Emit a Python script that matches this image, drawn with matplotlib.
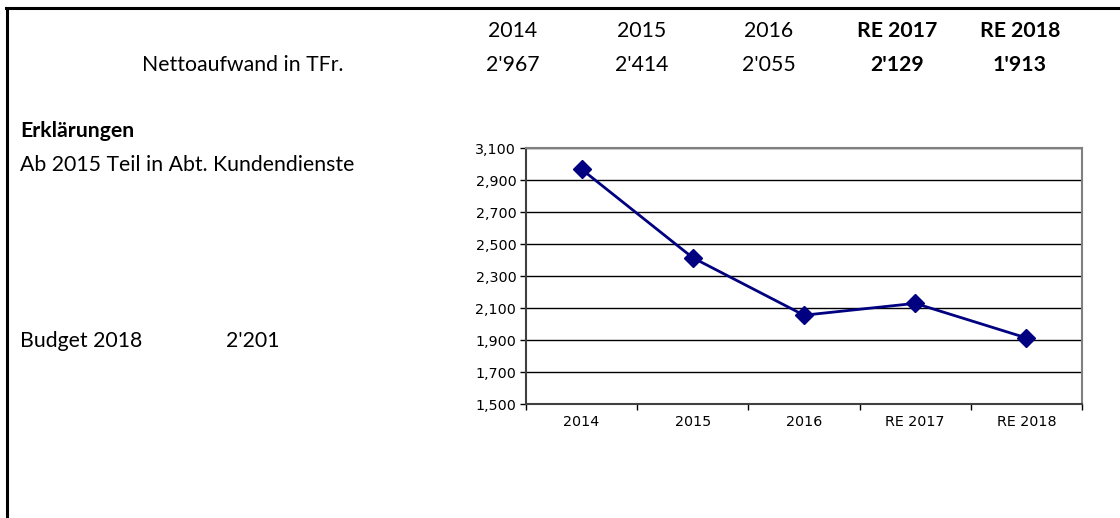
import matplotlib
matplotlib.use("Agg")
import matplotlib.pyplot as plt
from matplotlib.ticker import FuncFormatter, FixedLocator
from matplotlib.lines import Line2D

categories = ["2014", "2015", "2016", "RE 2017", "RE 2018"]
values = [2967, 2414, 2055, 2129, 1913]
value_labels = ["2'967", "2'414", "2'055", "2'129", "1'913"]
bold_flags = [False, False, False, True, True]
row_label = "Nettoaufwand in TFr."
notes_title = "Erklärungen"
note_text = "Ab 2015 Teil in Abt. Kundendienste"
budget_label = "Budget 2018"
budget_value = "2'201"
y_ticks = [1500, 1700, 1900, 2100, 2300, 2500, 2700, 2900, 3100]

W, H = 1120, 518
fig = plt.figure(figsize=(W / 100, H / 100), dpi=100)
FONT = "Lato"
fs = 15.3

def fx(px):
    return px / W

def fy(py):
    return 1 - py / H

# outer frame (top and left)
fig.add_artist(Line2D([fx(6), fx(1120)], [fy(8), fy(8)], color="black", lw=2.2, transform=fig.transFigure))
fig.add_artist(Line2D([fx(7), fx(7)], [fy(8), fy(518)], color="black", lw=2.2, transform=fig.transFigure))

# header table
col_x = [513, 642, 769, 897, 1020]
for cx, cat, val, b in zip(col_x, categories, value_labels, bold_flags):
    w = "bold" if b else "normal"
    fig.text(fx(cx), fy(31), cat, ha="center", va="center", fontsize=fs, family=FONT, fontweight=w)
    fig.text(fx(cx), fy(65), val, ha="center", va="center", fontsize=fs, family=FONT, fontweight=w)
fig.text(fx(343), fy(65), row_label, ha="right", va="center", fontsize=fs, family=FONT)

fig.text(fx(20), fy(131), notes_title, ha="left", va="center", fontsize=fs, family=FONT, fontweight="bold")
fig.text(fx(20), fy(165), note_text, ha="left", va="center", fontsize=fs, family=FONT)
fig.text(fx(20), fy(341), budget_label, ha="left", va="center", fontsize=fs, family=FONT)
fig.text(fx(226), fy(341), budget_value, ha="left", va="center", fontsize=fs, family=FONT)

# chart
left, right, top, bottom = 526, 1082, 148, 404
ax = fig.add_axes([fx(left), fy(bottom), fx(right - left), (bottom - top) / H])
x = list(range(len(categories)))
ax.plot(x, values, color="#000080", lw=2, marker="D", markersize=9.5, markerfacecolor="#000080",
        markeredgecolor="#000080", zorder=3)
ax.set_xlim(-0.5, len(categories) - 0.5)
ax.set_ylim(y_ticks[0], y_ticks[-1])
ax.yaxis.set_major_locator(FixedLocator(y_ticks))
ax.yaxis.set_major_formatter(FuncFormatter(lambda v, p: f"{int(v):,}"))
ax.set_xticks(x)
ax.set_xticklabels(categories)
ax.xaxis.set_minor_locator(FixedLocator([i - 0.5 for i in range(len(categories) + 1)]))
ax.tick_params(axis="x", which="major", length=0, pad=8, labelsize=10.3)
ax.tick_params(axis="x", which="minor", length=4, width=1, color="black", direction="out")
ax.tick_params(axis="y", which="major", length=4, width=1, color="black", direction="out", pad=3, labelsize=10.3)
for lab in ax.get_xticklabels() + ax.get_yticklabels():
    lab.set_family("DejaVu Sans")
ax.grid(axis="y", color="black", lw=1)
ax.set_axisbelow(True)
ax.spines["left"].set_color("#404040")
ax.spines["bottom"].set_color("#404040")
ax.spines["left"].set_linewidth(1.5)
ax.spines["bottom"].set_linewidth(1.5)
ax.spines["top"].set_color("#808080")
ax.spines["right"].set_color("#808080")
ax.spines["top"].set_linewidth(1.5)
ax.spines["right"].set_linewidth(1.5)

fig.savefig("out.png", dpi=100, facecolor="white")
